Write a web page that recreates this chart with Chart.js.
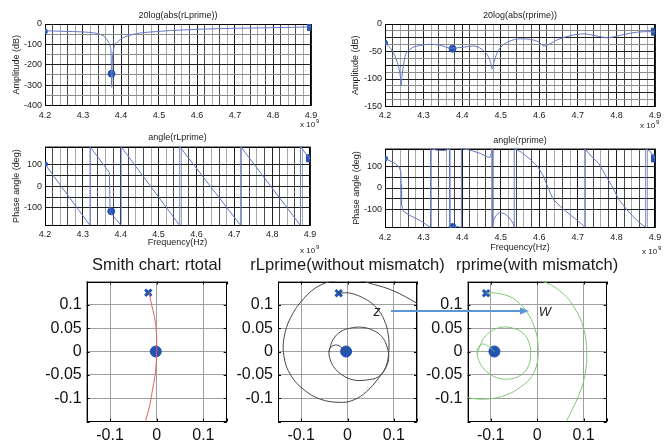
<!DOCTYPE html>
<html>
<head>
<meta charset="utf-8">
<title>rLprime / rprime</title>
<script src="https://cdn.jsdelivr.net/npm/chart.js@4.4.1/dist/chart.umd.min.js"></script>
<style>
  html, body { margin: 0; padding: 0; background: #fff; }
  body { position: relative; width: 667px; height: 444px; overflow: hidden; }
  canvas, svg { position: absolute; }
</style>
</head>
<body>
<canvas id="magL" width="330" height="130" style="left:0;top:0"></canvas>
<canvas id="magR" width="337" height="130" style="left:330px;top:0"></canvas>
<canvas id="angL" width="330" height="130" style="left:0;top:125px"></canvas>
<canvas id="angR" width="337" height="130" style="left:330px;top:125px"></canvas>
<canvas id="smTot" width="240" height="194" style="left:0;top:250px"></canvas>
<canvas id="smL" width="240" height="194" style="left:228px;top:250px"></canvas>
<canvas id="smR" width="249" height="194" style="left:418px;top:250px"></canvas>
<svg width="667" height="444" style="left:0;top:0" font-family="Liberation Sans, Arial, sans-serif">
  <line x1="391" y1="311" x2="521" y2="311" stroke="rgb(92,150,214)" stroke-width="2"/>
  <polygon points="529,311 520,307.5 520,314.5" fill="rgb(92,150,214)"/>
  <text x="377" y="315.5" font-size="14" font-style="italic" text-anchor="middle" fill="#222">z</text>
  <text x="545" y="315.5" font-size="13" font-style="italic" text-anchor="middle" fill="#222">W</text>
</svg>
<script>
// frequency in units of 1e9 Hz
const markFreq = [4.2, 4.375, 4.9];

// 20log(abs(rLprime))
const magFreqL = [4.2, 4.25, 4.3, 4.33, 4.345, 4.355, 4.363, 4.368, 4.372, 4.374, 4.3755, 4.377, 4.38, 4.385, 4.39, 4.398, 4.407, 4.416, 4.43, 4.451, 4.48, 4.504, 4.53, 4.565, 4.6, 4.653, 4.7, 4.741, 4.8, 4.829, 4.86, 4.9];
const magL = [-33, -36, -39, -44, -51, -60, -76, -92, -111, -150, -311, -190, -130, -97, -90, -76, -66, -59, -52, -44, -39, -36, -32, -29, -26, -23, -21, -20, -18, -17, -16, -14];
const magLMark = [-36, -244, -14];

// 20log(abs(rprime))
const magFreqR = [4.2, 4.215, 4.228, 4.236, 4.24, 4.242, 4.244, 4.248, 4.252, 4.265, 4.291, 4.317, 4.343, 4.371, 4.404, 4.43, 4.451, 4.465, 4.473, 4.478, 4.483, 4.49, 4.499, 4.521, 4.551, 4.577, 4.599, 4.612, 4.625, 4.646, 4.681, 4.716, 4.75, 4.776, 4.802, 4.837, 4.872, 4.9];
const magR = [-34, -45, -62, -80, -97, -112, -95, -75, -59, -46, -39, -37, -38.5, -44, -42, -40, -46, -56, -68, -82, -68, -54, -43, -32, -27, -28, -33, -40, -37, -29, -21, -18, -22, -25, -22, -16.5, -14, -14];
const magRMark = [-34, -45, -14];

// angle(rLprime), deg
const angFreqL = [4.2, 4.319, 4.319, 4.370, 4.372, 4.401, 4.401, 4.556, 4.556, 4.717, 4.717, 4.875, 4.875, 4.9];
const angL = [100, -180, 180, 62, -118, -180, 180, -180, 180, -180, 180, -180, 180, 123];
const angLMark = [100, -115, 127];

// angle(rprime), deg
const angFreqR = [4.2, 4.223, 4.236, 4.241, 4.242, 4.243, 4.248, 4.267, 4.292, 4.318, 4.318, 4.335, 4.355, 4.367, 4.368, 4.368, 4.385, 4.398, 4.398, 4.422, 4.448, 4.465, 4.472, 4.477, 4.478, 4.478, 4.481, 4.487, 4.496, 4.509, 4.522, 4.533, 4.535, 4.535, 4.553, 4.579, 4.596, 4.609, 4.623, 4.636, 4.658, 4.684, 4.71, 4.718, 4.718, 4.736, 4.754, 4.771, 4.789, 4.806, 4.833, 4.859, 4.876, 4.876, 4.889, 4.9];
const angR = [134, 116, 97, 75, 15, -75, -107, -127, -149, -180, 180, 172, 171, 178, 180, -180, -175, -180, 180, 172, 157, 142, 139, 164, 180, -180, -149, -127, -112, -116, -134, -164, -180, 180, 164, 127, 97, 60, 0, -52, -90, -127, -164, -180, 180, 142, 112, 60, 7, -52, -112, -157, -180, 180, 164, 134];
const angRMark = [134, -178, 135];

// Smith chart axes
const smithXTicks = [-0.15, -0.1, 0, 0.1, 0.15];
const smithYTicks = [-0.15, -0.1, -0.05, 0, 0.05, 0.1, 0.15];

// Smith chart: rtotal
const totRe = [-0.016, -0.011, -0.005, -0.001, 0.0, 0.0, -0.001, -0.004, -0.009, -0.014, -0.021, -0.026];
const totIm = [0.126, 0.1, 0.075, 0.046, 0.018, 0.0, -0.025, -0.054, -0.082, -0.111, -0.139, -0.155];

// rLprime (without mismatch)
const innerLRe = [-0.003, -0.016, -0.026, -0.036, -0.040, -0.037, -0.029, -0.012, 0.013, 0.041, 0.067, 0.083, 0.089, 0.084, 0.074, 0.056, 0.031, 0.006, -0.014, -0.029, -0.036, -0.040];
const innerLIm = [0, 0.011, 0.014, 0.009, -0.001, -0.018, -0.034, -0.050, -0.061, -0.061, -0.054, -0.034, -0.011, 0.014, 0.032, 0.045, 0.052, 0.050, 0.043, 0.029, 0.014, -0.001];
const outerLRe = [-0.019, 0.006, 0.041, 0.063, 0.079, 0.088, 0.089, 0.083, 0.067, 0.041, 0.013, -0.016, -0.059, -0.094, -0.123, -0.137, -0.137, -0.123, -0.094, -0.059, -0.023, 0.013, 0.056, 0.099, 0.149, 0.175];
const outerLIm = [0.125, 0.125, 0.111, 0.093, 0.068, 0.036, 0.0, -0.032, -0.057, -0.086, -0.104, -0.109, -0.102, -0.082, -0.050, -0.011, 0.029, 0.072, 0.114, 0.142, 0.152, 0.154, 0.144, 0.130, 0.104, 0.088];

// rprime (with mismatch)
const innerRRe = [-0.092, -0.105, -0.117, -0.127, -0.129, -0.123, -0.109, -0.087, -0.059, -0.034, -0.019, -0.014, -0.017, -0.030, -0.052, -0.077, -0.098, -0.114, -0.122, -0.129];
const innerRIm = [0, 0.011, 0.016, 0.009, -0.006, -0.025, -0.043, -0.056, -0.059, -0.050, -0.032, -0.007, 0.018, 0.039, 0.050, 0.052, 0.044, 0.030, 0.014, -0.006];
const outerRRe = [-0.110, -0.087, -0.052, -0.023, -0.005, 0.002, 0.0, -0.012, -0.034, -0.066, -0.109, -0.152, -0.17];
const outerRIm = [0.125, 0.125, 0.114, 0.086, 0.050, 0.014, -0.025, -0.054, -0.075, -0.093, -0.102, -0.099, -0.095];
const farRRe = [-0.17, -0.152, -0.12, -0.06, 0.006, 0.049, 0.081, 0.100, 0.107, 0.103, 0.090, 0.063, 0.052];
const farRIm = [0.14, 0.149, 0.158, 0.162, 0.152, 0.130, 0.093, 0.050, 0.0, -0.050, -0.093, -0.150, -0.172];

// start (x) and centre (o) markers: rtotal, rLprime, rprime
const crossRe = [-0.018, -0.019, -0.110];
const crossIm = [0.126, 0.125, 0.125];
const dotRe = [-0.002, -0.003, -0.092];
const dotIm = [0, 0, 0];

const FONT = "'Liberation Sans', Arial, Helvetica, sans-serif";
const TRACE = 'rgb(100,120,198)';
const MARK = 'rgb(36,84,176)';

const pts = (xs, ys) => xs.map((x, i) => ({ x: x, y: ys[i] }));
const onStep = (v, s) => Math.abs(v / s - Math.round(v / s)) < 1e-6;

function deco(o) {
    return {
        id: 'deco',
        beforeDatasetsDraw(chart) {
            const { ctx, chartArea: a, scales } = chart;
            ctx.save();
            ctx.strokeStyle = '#000';
            ctx.lineWidth = 1;
            ctx.strokeRect(Math.round(a.left) + 0.5, Math.round(a.top) + 0.5,
                Math.round(a.right - a.left) - 1, Math.round(a.bottom - a.top) - 1);
            // small inward tick marks on every side (Smith charts)
            if (o.edgeTicks) {
                ctx.beginPath();
                scales.x.ticks.forEach(t => {
                    const px = Math.round(scales.x.getPixelForValue(t.value)) + 0.5;
                    ctx.moveTo(px, a.top); ctx.lineTo(px, a.top + 3);
                    ctx.moveTo(px, a.bottom); ctx.lineTo(px, a.bottom - 3);
                });
                scales.y.ticks.forEach(t => {
                    const py = Math.round(scales.y.getPixelForValue(t.value)) + 0.5;
                    ctx.moveTo(a.left, py); ctx.lineTo(a.left + 3, py);
                    ctx.moveTo(a.right, py); ctx.lineTo(a.right - 3, py);
                });
                ctx.stroke();
            }
            ctx.restore();
        },
        afterDraw(chart) {
            const { ctx, chartArea: a } = chart;
            ctx.save();
            ctx.fillStyle = '#1a1a1a';
            ctx.textAlign = 'center';
            ctx.textBaseline = 'middle';
            ctx.font = o.size + 'px ' + FONT;
            ctx.fillText(o.title, (a.left + a.right) / 2, o.titleY);
            if (o.note) {
                ctx.textAlign = 'left';
                ctx.font = '8px ' + FONT;
                ctx.fillText('x 10', o.note[0], o.note[1]);
                const w = ctx.measureText('x 10').width;
                ctx.font = '6px ' + FONT;
                ctx.fillText('9', o.note[0] + w + 1, o.note[1] - 4);
            }
            ctx.restore();
        }
    };
}

function baseOpts(pad) {
    return {
        responsive: false,
        animation: false,
        layout: { padding: pad },
        plugins: { legend: { display: false }, tooltip: { enabled: false } }
    };
}

function freqGrid(v) {
    if (onStep(v, 0.1)) return '#1e1e1e';
    return Math.round((v - 4.2) / 0.02) % 2 ? '#4a4a4a' : '#a8a8a8';
}

function freqAxis(h, pad, title, titlePad) {
    return {
        type: 'linear', min: 4.2, max: 4.9,
        afterFit: s => { s.height = h; },
        border: { display: false },
        grid: { drawTicks: false, lineWidth: 1, color: c => c.tick ? freqGrid(c.tick.value) : '#000' },
        ticks: {
            stepSize: 0.02, autoSkip: false, maxRotation: 0, padding: pad, color: '#222',
            font: { family: FONT, size: 9 },
            callback: v => onStep(v, 0.1) ? v.toFixed(1) : ''
        },
        title: title
            ? { display: true, text: title, color: '#222', font: { family: FONT, size: 9 }, padding: { top: 0, bottom: titlePad } }
            : { display: false }
    };
}

function valueAxis(min, max, step, labelStep, darkStep, w, title, titlePad) {
    return {
        type: 'linear', min: min, max: max,
        afterFit: s => { s.width = w; },
        border: { display: false },
        grid: { drawTicks: false, color: c => c.tick && onStep(c.tick.value, darkStep) ? '#1e1e1e' : '#8c8c8c' },
        ticks: {
            stepSize: step, autoSkip: false, padding: 3, color: '#222',
            font: { family: FONT, size: 9 },
            callback: v => onStep(v, labelStep) ? String(v) : ''
        },
        title: { display: true, text: title, color: '#222', font: { family: FONT, size: 9 }, padding: { top: titlePad, bottom: 0 } }
    };
}

function trace(data, monotone) {
    return {
        data: data, borderColor: TRACE, borderWidth: 1, pointRadius: 0, fill: false,
        tension: 0, cubicInterpolationMode: monotone ? 'monotone' : 'default'
    };
}

function mark(x, y, style, r) {
    return {
        data: [{ x: x, y: y }], showLine: false, pointStyle: style, pointRadius: r,
        pointBackgroundColor: MARK, pointBorderColor: MARK, pointBorderWidth: 1
    };
}

function freqMarks(vals) {
    return [mark(markFreq[0], vals[0], 'circle', 2.5), mark(markFreq[1], vals[1], 'circle', 3.5), mark(markFreq[2], vals[2], 'rect', 5)];
}

/* --- magnitude plots --- */
new Chart(document.getElementById('magL'), {
    type: 'line',
    data: { datasets: [trace(pts(magFreqL, magL), true), ...freqMarks(magLMark)] },
    options: Object.assign(baseOpts({ top: 24, right: 19, bottom: 0, left: 0 }), {
        scales: { x: freqAxis(24.5, 4.5), y: valueAxis(-400, 0, 50, 100, 100, 45, 'Amplitude (dB)', 11.6) }
    }),
    plugins: [deco({ title: '20log(abs(rLprime))', titleY: 15.5, size: 9, note: [300, 125] })]
});

new Chart(document.getElementById('magR'), {
    type: 'line',
    data: { datasets: [trace(pts(magFreqR, magR), true), ...freqMarks(magRMark)] },
    options: Object.assign(baseOpts({ top: 24, right: 12, bottom: 0, left: 0 }), {
        scales: { x: freqAxis(23.5, 3.5), y: valueAxis(-150, 0, 12.5, 50, 25, 55, 'Amplitude (dB)', 20.6) }
    }),
    plugins: [deco({ title: '20log(abs(rprime))', titleY: 15.5, size: 9, note: [310, 126] })]
});

/* --- phase plots --- */
new Chart(document.getElementById('angL'), {
    type: 'line',
    data: { datasets: [trace(pts(angFreqL, angL), false), ...freqMarks(angLMark)] },
    options: Object.assign(baseOpts({ top: 21.7, right: 20, bottom: 0, left: 0 }), {
        scales: { x: freqAxis(29.5, 4, 'Frequency(Hz)', 6.6), y: valueAxis(-180, 180, 50, 100, 50, 45, 'Phase angle (deg)', 11.3) }
    }),
    plugins: [deco({ title: 'angle(rLprime)', titleY: 13, size: 9, note: [300, 126] })]
});

new Chart(document.getElementById('angR'), {
    type: 'line',
    data: { datasets: [trace(pts(angFreqR, angR), false), ...freqMarks(angRMark)] },
    options: Object.assign(baseOpts({ top: 23.5, right: 12, bottom: 0, left: 0 }), {
        scales: { x: freqAxis(27.5, 5, 'Frequency(Hz)', 1.9), y: valueAxis(-180, 180, 50, 100, 50, 55, 'Phase angle (deg)', 21.3) }
    }),
    plugins: [deco({ title: 'angle(rprime)', titleY: 16, size: 9, note: [312, 127] })]
});

/* --- Smith charts --- */
function smithAxis(isX, size) {
    const list = isX ? smithXTicks : smithYTicks;
    return {
        type: 'linear', min: -0.15, max: 0.15,
        afterBuildTicks: s => { s.ticks = list.map(v => ({ value: v })); },
        afterFit: s => { if (isX) s.height = size; else s.width = size; },
        border: { display: false },
        grid: { drawTicks: false, color: '#a0a0a0' },
        ticks: {
            autoSkip: false, maxRotation: 0, padding: isX ? 4.7 : 5, color: '#111',
            font: { family: FONT, size: 16 },
            callback: v => Math.abs(v) > 0.14 ? '' : String(+v.toFixed(2))
        }
    };
}

function curve(re, im, color) {
    return { data: pts(re, im), showLine: true, borderColor: color, borderWidth: 1, pointRadius: 0, tension: 0.4, fill: false };
}

function smithMarks(i) {
    return [
        { data: [{ x: crossRe[i], y: crossIm[i] }], pointStyle: 'crossRot', pointRadius: 4.5, pointBorderWidth: 3, pointBorderColor: MARK },
        { data: [{ x: dotRe[i], y: dotIm[i] }], pointStyle: 'circle', pointRadius: 5.5, pointBackgroundColor: MARK, pointBorderColor: MARK }
    ];
}

function smith(id, datasets, yWidth, padRight, title) {
    new Chart(document.getElementById(id), {
        type: 'scatter',
        data: { datasets: datasets },
        options: Object.assign(baseOpts({ top: 31.5, right: padRight, bottom: 0, left: 0 }), {
            elements: { line: { capBezierPoints: false } },
            scales: { x: smithAxis(true, 22.5), y: smithAxis(false, yWidth) }
        }),
        plugins: [deco({ title: title, titleY: 15, size: 16.5, edgeTicks: true })]
    });
}

smith('smTot', [curve(totRe, totIm, 'rgb(232,96,96)'), ...smithMarks(0)], 86.7, 13.3, 'Smith chart: rtotal');
smith('smL', [curve(outerLRe, outerLIm, 'rgb(70,70,70)'), curve(innerLRe, innerLIm, 'rgb(70,70,70)'), ...smithMarks(1)], 50, 51, 'rLprime(without mismatch)');
smith('smR', [curve(farRRe, farRIm, 'rgb(128,200,118)'), curve(outerRRe, outerRIm, 'rgb(128,200,118)'),
    curve(innerRRe, innerRIm, 'rgb(128,200,118)'), ...smithMarks(2)], 49.5, 60.3, 'rprime(with mismatch)');
</script>
</body>
</html>
